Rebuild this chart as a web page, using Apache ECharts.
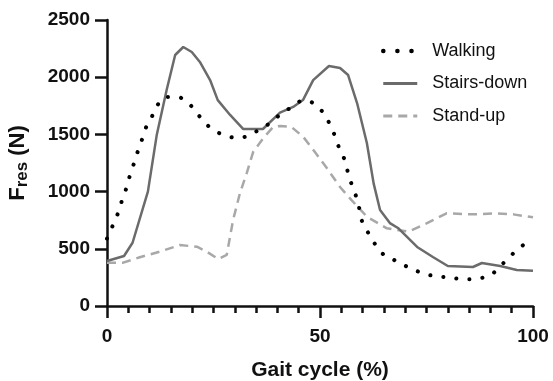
<!DOCTYPE html>
<html>
<head>
<meta charset="utf-8">
<script src="https://cdn.jsdelivr.net/npm/echarts@6/dist/echarts.min.js"></script>
<style>
  html, body { margin: 0; padding: 0; background: #fff; }
  #chart { width: 553px; height: 381px; }
</style>
</head>
<body>
<div id="chart"></div>
<script>
// values (x = gait cycle %, y = force N)
var walkingX = [0, 1.3, 2.5, 3.4, 4.4, 5.2, 6.2, 7.1, 8.1, 9.1, 10.5, 11.7, 13.8, 16.6, 19.1, 21.1, 23, 25.4, 28.1, 30.8, 33.6, 36.3, 38.7, 41, 43.5, 46.1, 48.8, 50.8, 52.3, 53.5, 54.5, 55.7, 56.6, 57.4, 58.5, 59.2, 59.9, 61.3, 62.9, 64.8, 67.4, 70.1, 72.7, 75.6, 78.6, 81.5, 84.4, 87.6, 90.3, 92.4, 94.6, 96.8, 100];
var walkingY = [590, 699, 804, 909, 1014, 1119, 1232, 1337, 1442, 1556, 1652, 1748, 1827, 1827, 1774, 1687, 1600, 1530, 1486, 1468, 1495, 1556, 1608, 1687, 1740, 1800, 1766, 1687, 1590, 1486, 1381, 1285, 1162, 1066, 955, 856, 737, 641, 542, 454, 402, 350, 306, 271, 256, 242, 233, 242, 277, 352, 431, 510, 580];

var stairsX = [0, 4, 6, 9.6, 11.7, 14, 16, 17.9, 19.9, 21.8, 24.2, 26, 28.9, 32, 36.6, 40.6, 43.7, 46, 48.4, 52.1, 54.7, 56.6, 58.7, 61, 62.6, 64.1, 66.4, 68.3, 72.8, 76.5, 80, 85.9, 88, 92.3, 96.2, 100];
var stairsY = [393, 437, 553, 1000, 1500, 1888, 2194, 2264, 2220, 2133, 1975, 1800, 1670, 1547, 1547, 1690, 1740, 1800, 1975, 2098, 2080, 2019, 1774, 1425, 1070, 839, 725, 682, 516, 428, 350, 341, 376, 350, 315, 308];

var standX = [0, 3.8, 7.7, 12.4, 17.1, 21.1, 23.4, 26.1, 28.1, 29.6, 31.2, 32.8, 34.3, 36.7, 39, 40.6, 43.3, 46.1, 48.8, 51.6, 54.7, 57.4, 61, 65.7, 70.8, 75, 79.7, 86, 91.5, 95.4, 100];
var standY = [379, 379, 426, 475, 533, 518, 475, 411, 446, 752, 985, 1162, 1346, 1468, 1565, 1573, 1565, 1477, 1346, 1206, 1040, 926, 781, 679, 650, 723, 810, 801, 810, 801, 775];

var seriesNames = ['Walking', 'Stairs-down', 'Stand-up'];
var xTicks = [0, 50, 100];
var yTicks = [0, 500, 1000, 1500, 2000, 2500];

function pairs(xs, ys) {
    var out = [];
    for (var i = 0; i < xs.length; i++) {
        out.push([xs[i], ys[i]]);
    }
    return out;
}

var fontFam = '"Liberation Sans", Arial, sans-serif';
var myChart = echarts.init(document.getElementById('chart'), null, {renderer: 'canvas'});
var option = {
    animation: false,
    grid: {left: 107, right: 20, top: 20, bottom: 75, containLabel: false, outerBoundsMode: 'none'},
    legend: {
        orient: 'vertical',
        left: 376,
        top: 37,
        itemWidth: 34,
        itemHeight: 14,
        itemGap: 14.5,
        data: [
            {name: seriesNames[0], lineStyle: {width: 4.5, type: [0.1, 14], cap: 'round'}},
            {name: seriesNames[1], lineStyle: {width: 3}},
            {name: seriesNames[2], lineStyle: {width: 3, type: [9, 6]}}
        ],
        itemStyle: {opacity: 0},
        textStyle: {fontFamily: fontFam, fontSize: 18, color: '#111', padding: [0, 0, 0, 10]}
    },
    xAxis: {
        type: 'value',
        min: xTicks[0],
        max: xTicks[xTicks.length - 1],
        interval: 50,
        name: 'Gait cycle (%)',
        nameLocation: 'middle',
        nameGap: 54,
        nameTextStyle: {fontFamily: fontFam, fontSize: 21, fontWeight: 'bold', color: '#111'},
        axisLine: {show: true, onZero: false, lineStyle: {color: '#111', width: 2.5}},
        axisTick: {show: true, length: 12, lineStyle: {color: '#111', width: 2.5}},
        minorTick: {show: true, splitNumber: 10, length: 7, lineStyle: {color: '#111', width: 2.5}},
        axisLabel: {fontFamily: fontFam, fontSize: 19, fontWeight: 'bold', color: '#111', margin: 21},
        splitLine: {show: false}
    },
    yAxis: {
        type: 'value',
        min: yTicks[0],
        max: yTicks[yTicks.length - 1],
        interval: 500,
        name: '{a|F}{b|res}{a| (N)}',
        nameLocation: 'middle',
        nameRotate: 90,
        nameGap: 76,
        nameTextStyle: {
            fontFamily: fontFam, fontWeight: 'bold', color: '#111',
            rich: {
                a: {fontFamily: fontFam, fontSize: 22, fontWeight: 'bold', color: '#111'},
                b: {fontFamily: fontFam, fontSize: 17, fontWeight: 'bold', color: '#111', padding: [10, 0, 0, 0]}
            }
        },
        axisLine: {show: true, lineStyle: {color: '#111', width: 2.5}},
        axisTick: {show: true, length: 12, lineStyle: {color: '#111', width: 2.5}},
        axisLabel: {
            fontFamily: fontFam, fontSize: 19, fontWeight: 'bold', color: '#111', margin: 17,
            formatter: function (v) { return String(v); }
        },
        splitLine: {show: false}
    },
    series: [
        {
            name: seriesNames[0],
            type: 'line',
            data: pairs(walkingX, walkingY),
            showSymbol: false,
            symbol: 'none',
            smooth: 0.3,
            itemStyle: {color: '#000'},
            lineStyle: {color: '#000', width: 4, type: [0.1, 13], cap: 'round'},
            z: 3
        },
        {
            name: seriesNames[1],
            type: 'line',
            data: pairs(stairsX, stairsY),
            showSymbol: false,
            symbol: 'none',
            itemStyle: {color: '#6b6b6b'},
            lineStyle: {color: '#6b6b6b', width: 2.5},
            z: 2
        },
        {
            name: seriesNames[2],
            type: 'line',
            data: pairs(standX, standY),
            showSymbol: false,
            symbol: 'none',
            itemStyle: {color: '#a8a8a8'},
            lineStyle: {color: '#a8a8a8', width: 2.5, type: [9, 6]},
            z: 1
        }
    ]
};
myChart.setOption(option);
</script>
</body>
</html>
